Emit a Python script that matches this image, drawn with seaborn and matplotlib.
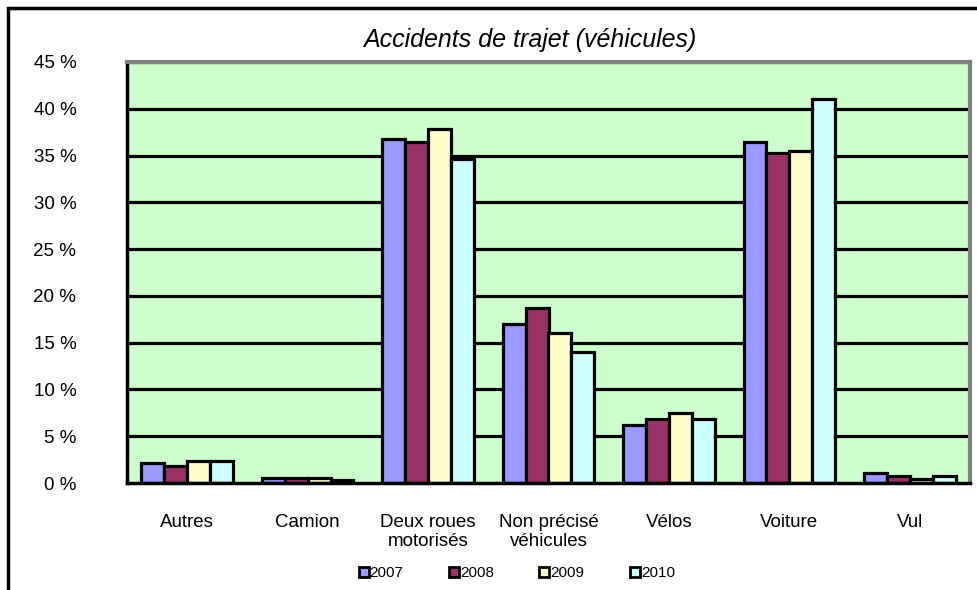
import numpy as np
import pandas as pd
import matplotlib
matplotlib.use("Agg")
import matplotlib.pyplot as plt
from matplotlib.lines import Line2D
from matplotlib.patches import Rectangle
import seaborn as sns

categories = ["Autres", "Camion", "Deux roues\nmotorisés", "Non précisé\nvéhicules",
              "Vélos", "Voiture", "Vul"]
years = ["2007", "2008", "2009", "2010"]
v2007 = [2.1, 0.5, 36.8, 17.0, 6.2, 36.4, 1.1]
v2008 = [1.8, 0.5, 36.4, 18.7, 6.8, 35.3, 0.7]
v2009 = [2.3, 0.5, 37.8, 16.0, 7.5, 35.5, 0.4]
v2010 = [2.3, 0.3, 34.6, 14.0, 6.8, 41.0, 0.7]
colors = ["#9999FF", "#993366", "#FFFFCC", "#CCFFFF"]
yticks = [0, 5, 10, 15, 20, 25, 30, 35, 40, 45]

df = pd.DataFrame({
    "cat": categories * 4,
    "year": [y for y in years for _ in categories],
    "val": v2007 + v2008 + v2009 + v2010,
})

sns.set_style("white")
plt.rcParams['font.family'] = ['Liberation Sans', 'DejaVu Sans']
plt.rcParams['text.color'] = 'black'
plt.rcParams['xtick.color'] = 'black'
plt.rcParams['ytick.color'] = 'black'

fig = plt.figure(figsize=(9.78, 5.9), dpi=100)
ax = fig.add_axes([127 / 978, 107 / 590, 843 / 978, 421 / 590])
ax.set_facecolor("#CCFFCC")

for y in yticks[1:]:
    ax.axhline(y, color="black", lw=2.3, zorder=0.5)

sns.barplot(data=df, x="cat", y="val", hue="year", order=categories,
            palette=colors, width=0.76, edgecolor="black", linewidth=2.3,
            saturation=1, ax=ax, legend=False, zorder=2)

ax.set_ylim(0, 45)
ax.set_xlim(-0.5, 6.5)
ax.set_yticks(yticks)
ax.set_yticklabels([f"{t} %" for t in yticks])
ax.set_xlabel("")
ax.set_ylabel("")
ax.set_xticks(range(len(categories)))
ax.set_xticklabels(categories, linespacing=1.2)
ax.set_xticks(np.arange(-0.5, 7, 1), minor=True)
ax.tick_params(axis="x", which="major", length=0, pad=22, labelsize=13.5)
ax.tick_params(axis="x", which="minor", length=6, width=2.3, direction="out", color="black")
ax.tick_params(axis="y", length=7, width=2.3, direction="inout", color="black",
               pad=33, labelsize=13.5)

for s in ["left", "bottom"]:
    ax.spines[s].set_color("black")
    ax.spines[s].set_linewidth(2.5)
for s in ["top", "right"]:
    ax.spines[s].set_color("#808080")
    ax.spines[s].set_linewidth(3)

fig.text(530 / 978, 1 - 40 / 590, "Accidents de trajet (véhicules)", ha="center", va="center",
         fontsize=18, style="italic")

handles = [Line2D([], [], marker="s", ls="", markersize=6.5, markerfacecolor=c,
                  markeredgecolor="black", markeredgewidth=2) for c in colors]
fig.legend(handles, years, loc="center", bbox_to_anchor=(517 / 978, 1 - 573 / 590), ncol=4,
           frameon=False, fontsize=11, handlelength=0.6, handletextpad=0.1,
           columnspacing=3.0)

fig.patches.append(Rectangle((8 / 978, -0.05), 1.1, 1 - 8 / 590 + 0.05,
                             transform=fig.transFigure, fill=False,
                             edgecolor="black", lw=2.5))

fig.savefig("out.png", dpi=100)
